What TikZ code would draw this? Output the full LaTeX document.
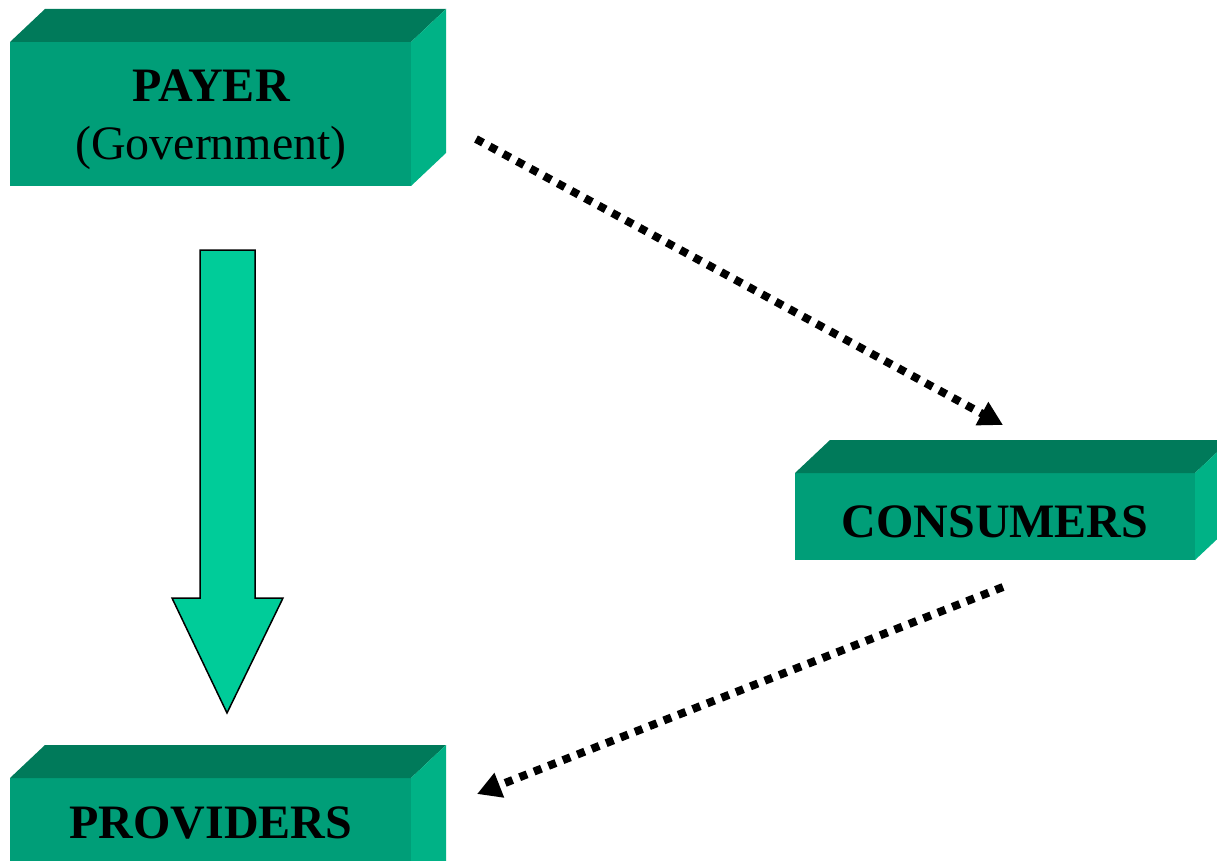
\documentclass[tikz,border=0pt]{standalone}
\usepackage{fontspec}
\setmainfont{Liberation Serif}
\usetikzlibrary{arrows.meta}
\definecolor{frontc}{RGB}{0,158,120}
\definecolor{topc}{RGB}{0,122,90}
\definecolor{sidec}{RGB}{0,178,134}
\definecolor{arrowc}{RGB}{0,204,153}
\newcommand{\solidblock}[4]{%
  \fill[frontc] (#1,#2) rectangle (#3,#4);
  \fill[topc] (#1,#2) -- (#1+35,#2-33) -- (#3+35,#2-33) -- (#3,#2) -- cycle;
  \fill[sidec] (#3,#2) -- (#3+35,#2-33) -- (#3+35,#4-33) -- (#3,#4) -- cycle;
}
\tikzset{
  bigtext/.style={font=\fontsize{48}{58}\selectfont\bfseries, anchor=base, inner sep=0pt},
  subtext/.style={font=\fontsize{48}{58}\selectfont, anchor=base, inner sep=0pt},
  dotarrow/.style={line width=8pt, line cap=butt, dash pattern=on 8pt off 7.5pt,
    -{Triangle[length=24pt,width=25pt]}},
  bigarrow/.style={fill=arrowc, draw=black, line width=1.5pt, line join=miter}
}
\begin{document}
\begin{tikzpicture}[x=1pt,y=-1pt]
\useasboundingbox (0,0) rectangle (1217,861);
\fill[white] (0,0) rectangle (1217,861);
% blocks
\solidblock{10}{42}{411}{186}
\solidblock{795}{473}{1195}{560}
\solidblock{10}{778}{411}{900}
% texts
\node[bigtext] (payer) at (211,102) {PAYER};
\node[subtext] (gov) at (211,160) {(Government)};
\node[bigtext] (consumers) at (995,537) {CONSUMERS};
\node[bigtext] (providers) at (211,838) {PROVIDERS};
% big arrow
\draw[bigarrow] (200,250) -- (255,250) -- (255,598) -- (283,598) -- (227,713) -- (172,598) -- (200,598) -- cycle;
% dotted arrows
\coordinate (s1) at (476,139);
\coordinate (e1) at (1003,425);
\coordinate (s2) at (1003,587);
\coordinate (e2) at (477,794);
\draw[dotarrow] (s1) -- (e1);
\draw[dotarrow] (s2) -- (e2);
\end{tikzpicture}
\end{document}
